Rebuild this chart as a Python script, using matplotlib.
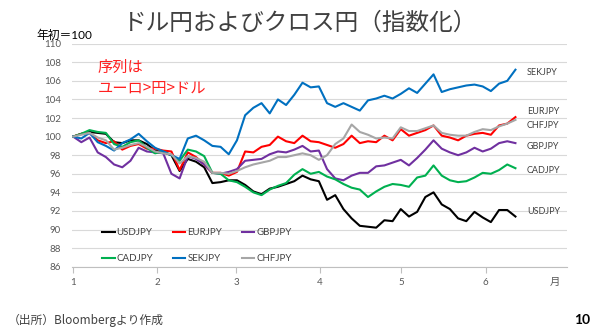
import matplotlib.pyplot as plt
import pandas as pd

plt.rcParams['font.family'] = ['Lato', 'Noto Sans CJK JP', 'DejaVu Sans']

# indexed to 100 at the start of the year, read roughly every 3 days
dates = pd.date_range('2020-01-01', '2020-06-12', periods=55)

usd = [100.0, 100.3, 100.5, 100.4, 100.3, 99.4, 99.3, 99.6, 99.6, 99.2,
       98.5, 98.3, 98.0, 96.3, 97.6, 97.3, 96.7, 95.0, 95.1, 95.3,
       95.3, 94.8, 94.1, 93.8, 94.4, 94.6, 94.9, 95.2, 95.8, 95.4,
       95.2, 93.2, 93.7, 92.2, 91.2, 90.4, 90.3, 90.2, 91.0, 90.9,
       92.2, 91.4, 91.9, 93.5, 94.0, 92.7, 92.2, 91.2, 90.9, 91.9,
       91.3, 90.8, 92.1, 92.1, 91.4]
eur = [100.0, 100.3, 100.4, 99.6, 99.3, 99.5, 98.6, 99.0, 99.2, 98.7,
       98.7, 98.5, 98.4, 96.4, 98.3, 97.8, 97.0, 96.1, 96.1, 95.8,
       96.2, 98.4, 98.3, 98.9, 99.1, 100.0, 99.5, 99.3, 100.1, 99.5,
       99.4, 99.1, 98.8, 99.2, 100.1, 99.3, 99.5, 99.4, 100.1, 99.6,
       100.8, 100.1, 100.4, 100.7, 101.2, 100.1, 99.9, 99.6, 100.1, 100.3,
       100.4, 100.2, 101.2, 101.4, 102.1]
gbp = [100.0, 99.4, 99.9, 98.3, 97.8, 97.0, 96.7, 97.4, 98.8, 98.4,
       98.3, 98.2, 96.0, 95.5, 97.9, 97.6, 97.0, 96.1, 96.0, 96.2,
       96.5, 97.4, 97.5, 97.6, 98.1, 98.4, 98.3, 98.6, 99.0, 98.4,
       98.5, 96.5, 95.5, 95.3, 95.8, 96.1, 96.1, 96.8, 96.9, 97.2,
       97.5, 96.9, 97.7, 98.6, 99.6, 98.7, 98.3, 98.0, 98.3, 98.8,
       98.4, 98.7, 99.3, 99.5, 99.3]
cad = [100.0, 100.3, 100.7, 100.5, 100.4, 99.2, 98.9, 99.4, 99.6, 98.8,
       98.2, 98.4, 98.0, 97.4, 98.6, 98.4, 97.9, 96.1, 96.0, 95.3,
       95.1, 94.6, 94.0, 93.7, 94.3, 94.7, 95.0, 95.9, 96.5, 96.0,
       96.2, 95.7, 95.4, 94.9, 94.5, 94.3, 93.5, 94.1, 94.6, 94.9,
       94.8, 94.6, 95.6, 95.8, 96.9, 95.8, 95.3, 95.1, 95.2, 95.6,
       96.1, 96.0, 96.4, 97.0, 96.6]
sek = [100.0, 99.8, 100.4, 99.4, 99.0, 98.5, 99.3, 99.7, 100.3, 99.5,
       98.8, 98.4, 98.0, 97.6, 99.8, 100.1, 99.6, 99.0, 98.9, 98.1,
       99.6, 102.3, 103.1, 103.6, 102.5, 104.0, 103.4, 104.5, 105.8, 105.3,
       105.4, 103.6, 103.2, 103.6, 103.2, 102.8, 103.9, 104.1, 104.4, 104.1,
       104.6, 105.2, 104.7, 105.7, 106.7, 104.8, 105.1, 105.3, 105.5, 105.6,
       105.4, 104.9, 105.7, 106.0, 107.2]
chf = [100.0, 100.2, 100.4, 99.9, 99.6, 98.6, 98.8, 99.1, 99.3, 98.9,
       98.4, 98.2, 98.1, 97.1, 97.9, 97.7, 97.3, 96.1, 96.1, 96.0,
       96.3, 96.7, 97.0, 97.2, 97.4, 97.8, 97.8, 98.0, 98.2, 98.0,
       97.5, 98.0, 99.2, 99.8, 101.3, 100.5, 100.2, 99.8, 99.9, 99.8,
       101.0, 100.6, 100.6, 100.9, 101.2, 100.4, 100.2, 100.1, 100.1, 100.5,
       100.8, 100.7, 101.1, 101.4, 101.8]

names = ['USDJPY', 'EURJPY', 'GBPJPY', 'CADJPY', 'SEKJPY', 'CHFJPY']
series = [usd, eur, gbp, cad, sek, chf]
colors = ['#000000', '#ff0000', '#7030a0', '#00b050', '#0070c0', '#a6a6a6']

month_starts = pd.date_range('2020-01-01', periods=6, freq='MS')
month_labels = ['1', '2', '3', '4', '5', '6']

fig = plt.figure(figsize=(6, 3.34), dpi=100)
ax = fig.add_axes([0.12, 0.2015, 0.825, 0.6677])

lines = {}
for name, values, colour in zip(names, series, colors):
    lines[name], = ax.plot(dates, values, color=colour, lw=1.5, label=name)

ax.set_ylim(86, 110)
ax.set_yticks(range(86, 111, 2))
ax.set_xlim(pd.Timestamp('2019-12-31 14:00'), pd.Timestamp('2020-07-01'))
ax.set_xticks(month_starts)
ax.set_xticklabels(month_labels)

ax.grid(axis='y', color='#d9d9d9', lw=0.8)
ax.set_axisbelow(True)
for side in ['left', 'top', 'right']:
    ax.spines[side].set_visible(False)
ax.spines['bottom'].set_color('#bfbfbf')
ax.tick_params(axis='y', length=0, pad=8, labelsize=7, labelcolor='#595959')
ax.tick_params(axis='x', length=4, color='#bfbfbf', pad=4, labelsize=7, labelcolor='#595959')

# legend: two rows of three, matplotlib fills column by column
order = ['USDJPY', 'CADJPY', 'EURJPY', 'SEKJPY', 'GBPJPY', 'CHFJPY']
leg = ax.legend([lines[n] for n in order], order, ncol=3, frameon=False,
                loc='upper left', bbox_to_anchor=(0.170, 0.316),
                bbox_transform=fig.transFigure, borderpad=0, borderaxespad=0,
                fontsize=7, handlelength=1.3, handletextpad=0.2,
                columnspacing=2.0, labelspacing=1.75)
for t in leg.get_texts():
    t.set_color('#404040')

# series names at the right end
end_labels = {'SEKJPY': 106.95, 'EURJPY': 102.65, 'CHFJPY': 101.15,
              'GBPJPY': 98.95, 'CADJPY': 96.3, 'USDJPY': 91.9}
for name, yv in end_labels.items():
    ax.text(0.919, yv, name, transform=ax.get_yaxis_transform(),
            fontsize=6.5, color='#404040', va='center', ha='left')

ax.text(0.976, -0.07, '月', transform=ax.transAxes, fontsize=7.5,
        color='#595959', ha='center', va='center')

fig.text(98 / 600, 1 - 78 / 334, '序列は\nユーロ>円>ドル', fontsize=11,
         color='#ff2020', ha='left', va='center', linespacing=1.3,
         family=['Noto Sans CJK JP'])

fig.text(0.5, 1 - 23 / 334, 'ドル円およびクロス円（指数化）', fontsize=17,
         color='#404040', ha='center', va='center', family=['Noto Sans CJK JP'])
fig.text(36 / 600, 1 - 35 / 334, '年初＝100', fontsize=8.5, color='#000000',
         ha='left', va='center')
fig.text(8 / 600, 1 - 320 / 334, '（出所）Bloombergより作成', fontsize=8.5,
         color='#404040', ha='left', va='center', family=['Noto Sans CJK JP'])
fig.text(590 / 600, 1 - 320 / 334, '10', fontsize=10, fontweight='bold',
         color='#000000', ha='right', va='center')

fig.savefig('out.png', dpi=100)
